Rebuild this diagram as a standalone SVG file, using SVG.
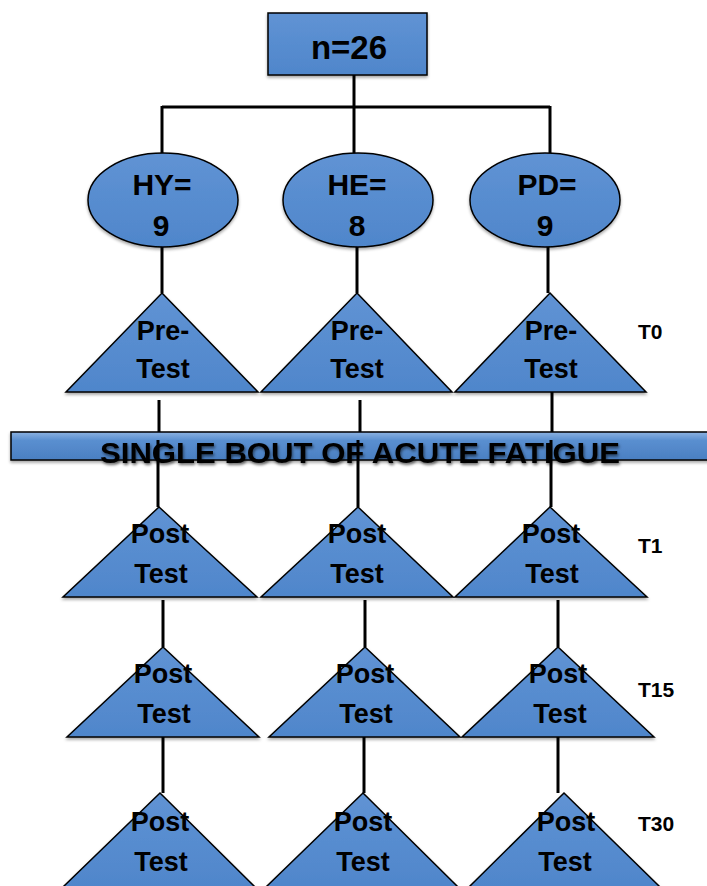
<svg xmlns="http://www.w3.org/2000/svg" width="707" height="886" viewBox="0 0 707 886">
  <defs>
    <linearGradient id="fillBlue" x1="0" y1="0" x2="0" y2="1">
      <stop offset="0" stop-color="#6093d4"/>
      <stop offset="1" stop-color="#4f86cb"/>
    </linearGradient>
    <linearGradient id="barFill" x1="0" y1="0" x2="0" y2="1">
      <stop offset="0" stop-color="#8db3e2"/>
      <stop offset="0.3" stop-color="#5a8fd0"/>
      <stop offset="1" stop-color="#4a7fc2"/>
    </linearGradient>
    <filter id="shadow" x="-10%" y="-10%" width="120%" height="130%">
      <feDropShadow dx="0" dy="2" stdDeviation="1.5" flood-color="#000" flood-opacity="0.35"/>
    </filter>
    <filter id="textShadow" x="-5%" y="-30%" width="110%" height="160%">
      <feDropShadow dx="1" dy="2" stdDeviation="1.5" flood-color="#000" flood-opacity="0.55"/>
    </filter>
  </defs>
  <style>
    .shape { fill: url(#fillBlue); stroke: #000; stroke-width: 1.5; filter: url(#shadow); }
    .lbl { font-family: "Liberation Sans", Arial, sans-serif; font-weight: bold; fill: #000; text-anchor: middle; }
    .big { font-size: 33px; }
    .mid { font-size: 30px; }
    .tri { font-size: 27px; }
    .time { font-family: "Liberation Sans", Arial, sans-serif; font-weight: bold; font-size: 21px; fill: #000; }
    .conn { stroke: #000; stroke-width: 3; fill: none; }
  </style>
  <rect width="707" height="886" fill="#fff"/>

  <!-- total sample -->
  <g id="total">
    <rect class="shape" x="268" y="13" width="159" height="62"/>
    <text class="lbl big" x="349" y="59">n=26</text>
  </g>

  <!-- groups -->
  <g id="group-hy">
    <ellipse class="shape" cx="163" cy="200" rx="75" ry="47"/>
    <text class="lbl mid" x="162" y="195">HY=</text>
    <text class="lbl mid" x="161" y="236">9</text>
  </g>
  <g id="group-he">
    <ellipse class="shape" cx="358" cy="200" rx="75" ry="47"/>
    <text class="lbl mid" x="357" y="195">HE=</text>
    <text class="lbl mid" x="357" y="236">8</text>
  </g>
  <g id="group-pd">
    <ellipse class="shape" cx="545" cy="200" rx="75" ry="47"/>
    <text class="lbl mid" x="547" y="195">PD=</text>
    <text class="lbl mid" x="545" y="236">9</text>
  </g>

  <!-- T0: pre-test -->
  <g id="pre-hy">
    <polygon class="shape" points="162,293 258,392 66,392"/>
    <text class="lbl tri" x="163" y="340">Pre-</text>
    <text class="lbl tri" x="163" y="378">Test</text>
  </g>
  <g id="pre-he">
    <polygon class="shape" points="357,293 452,392 261,392"/>
    <text class="lbl tri" x="357" y="340">Pre-</text>
    <text class="lbl tri" x="357" y="378">Test</text>
  </g>
  <g id="pre-pd">
    <polygon class="shape" points="550,293 646,392 455,392"/>
    <text class="lbl tri" x="551" y="340">Pre-</text>
    <text class="lbl tri" x="551" y="378">Test</text>
  </g>

  <!-- fatigue protocol -->
  <g id="fatigue-bar">
    <rect x="11" y="432" width="710" height="28" fill="url(#barFill)" stroke="#000" stroke-width="1.5" filter="url(#shadow)"/>
    <text class="lbl" x="360" y="463" font-size="29" textLength="520" lengthAdjust="spacingAndGlyphs" filter="url(#textShadow)">SINGLE BOUT OF ACUTE FATIGUE</text>
  </g>

  <!-- T1 -->
  <g id="t1-hy">
    <polygon class="shape" points="159,507 257,597 63,597"/>
    <text class="lbl tri" x="160" y="543">Post</text>
    <text class="lbl tri" x="161" y="583">Test</text>
  </g>
  <g id="t1-he">
    <polygon class="shape" points="358,507 453,597 261,597"/>
    <text class="lbl tri" x="357" y="543">Post</text>
    <text class="lbl tri" x="357" y="583">Test</text>
  </g>
  <g id="t1-pd">
    <polygon class="shape" points="550,507 647,597 455,597"/>
    <text class="lbl tri" x="551" y="543">Post</text>
    <text class="lbl tri" x="552" y="583">Test</text>
  </g>

  <!-- T15 -->
  <g id="t15-hy">
    <polygon class="shape" points="163,647 259,737 67,737"/>
    <text class="lbl tri" x="163" y="683">Post</text>
    <text class="lbl tri" x="164" y="723">Test</text>
  </g>
  <g id="t15-he">
    <polygon class="shape" points="365,647 460,737 269,737"/>
    <text class="lbl tri" x="365" y="683">Post</text>
    <text class="lbl tri" x="366" y="723">Test</text>
  </g>
  <g id="t15-pd">
    <polygon class="shape" points="558,647 654,737 462,737"/>
    <text class="lbl tri" x="558" y="683">Post</text>
    <text class="lbl tri" x="560" y="723">Test</text>
  </g>

  <!-- T30 -->
  <g id="t30-hy">
    <polygon class="shape" points="160,793 255,887 63,887"/>
    <text class="lbl tri" x="160" y="831">Post</text>
    <text class="lbl tri" x="161" y="871">Test</text>
  </g>
  <g id="t30-he">
    <polygon class="shape" points="363,793 458,887 266,887"/>
    <text class="lbl tri" x="363" y="831">Post</text>
    <text class="lbl tri" x="363" y="871">Test</text>
  </g>
  <g id="t30-pd">
    <polygon class="shape" points="564,793 660,887 469,887"/>
    <text class="lbl tri" x="566" y="831">Post</text>
    <text class="lbl tri" x="565" y="871">Test</text>
  </g>

  <!-- time points -->
  <g id="time-labels">
    <text class="time" x="638" y="339">T0</text>
    <text class="time" x="638" y="553">T1</text>
    <text class="time" x="638" y="697">T15</text>
    <text class="time" x="638" y="831">T30</text>
  </g>

  <!-- connectors -->
  <g id="connectors" class="conn">
    <path d="M354 75 V107"/>
    <path d="M162 107 H550"/>
    <path d="M162 106 V153"/>
    <path d="M354 107 V153"/>
    <path d="M550 106 V153"/>
    <path d="M162 247 V293"/>
    <path d="M357 247 V293"/>
    <path d="M548 247 V293"/>
    <path d="M159 400 V432"/>
    <path d="M360 400 V432"/>
    <path d="M552 392 V432"/>
    <path d="M158 440 V507"/>
    <path d="M358 440 V507"/>
    <path d="M551 440 V507"/>
    <path d="M163 600 V647"/>
    <path d="M365 600 V647"/>
    <path d="M558 600 V647"/>
    <path d="M163 737 V793"/>
    <path d="M364 737 V793"/>
    <path d="M558 737 V793"/>
  </g>
</svg>
